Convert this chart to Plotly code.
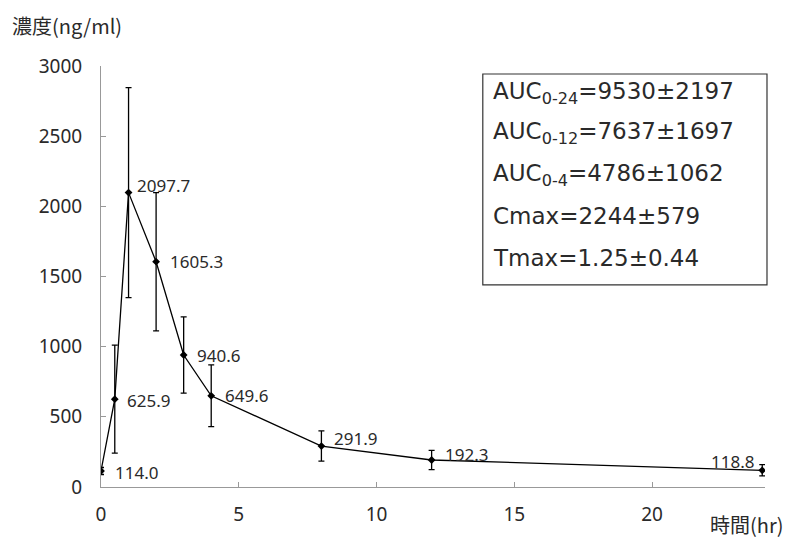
import plotly.graph_objects as go

time_hr = [0, 0.5, 1, 2, 3, 4, 8, 12, 24]
conc_mean = [114.0, 625.9, 2097.7, 1605.3, 940.6, 649.6, 291.9, 192.3, 118.8]
conc_sd = [25, 385, 748, 493, 272, 220, 108, 68, 40]
value_labels = ["114.0", "625.9", "2097.7", "1605.3", "940.6", "649.6", "291.9", "192.3", "118.8"]
stats_lines = [
    "AUC<sub>0-24</sub>=9530±2197",
    "AUC<sub>0-12</sub>=7637±1697",
    "AUC<sub>0-4</sub>=4786±1062",
    "Cmax=2244±579",
    "Tmax=1.25±0.44",
]
y_title = "濃度(ng/ml)"
x_title = "時間(hr)"

FONT = "Noto Sans CJK JP"
LATIN = "Noto Sans, Noto Sans CJK JP"
BOXFONT = "DejaVu Sans"
# label styling offsets (pixels): (xshift, yshift, xanchor)
label_style = [
    (12, -1, "left"), (10, -1, "left"), (6, 7, "left"), (12, 0, "left"),
    (11, 0, "left"), (12, 0, "left"), (11, 8, "left"), (11, 6, "left"),
    (-6, 9, "right"),
]

fig = go.Figure()
fig.add_trace(go.Scatter(
    x=time_hr, y=conc_mean, mode="lines+markers",
    line=dict(color="black", width=1.3),
    marker=dict(symbol="diamond", size=6, color="black"),
    error_y=dict(type="data", array=conc_sd, visible=True, color="black",
                 thickness=1.3, width=3),
    showlegend=False,
))

annotations = []
for xv, yv, lab, (dx, dy, xa) in zip(time_hr, conc_mean, value_labels, label_style):
    annotations.append(dict(x=xv, y=yv, text=lab, showarrow=False, xanchor=xa,
                            yanchor="middle", xshift=dx, yshift=dy,
                            font=dict(family=LATIN, size=17, color="#2a2a2a")))

line_y = [0.936, 0.841, 0.741, 0.644, 0.544]
for txt, yy in zip(stats_lines, line_y):
    annotations.append(dict(x=0.587, y=yy, xref="paper", yref="paper", text=txt,
                            showarrow=False, xanchor="left", yanchor="middle",
                            font=dict(family=BOXFONT, size=23, color="#2a2a2a")))

annotations.append(dict(x=-0.137, y=1.097, xref="paper", yref="paper", text=y_title,
                        showarrow=False, xanchor="left", yanchor="middle",
                        font=dict(family=FONT, size=20, color="#2a2a2a")))
annotations.append(dict(x=1.03, y=-0.09, xref="paper", yref="paper", text=x_title,
                        showarrow=False, xanchor="right", yanchor="middle",
                        font=dict(family=FONT, size=20, color="#2a2a2a")))

fig.update_layout(
    width=785, height=539,
    margin=dict(l=101, r=20, t=66, b=52),
    paper_bgcolor="white", plot_bgcolor="white",
    font=dict(family=LATIN, size=19, color="#2a2a2a"),
    annotations=annotations,
    shapes=[dict(type="rect", xref="paper", yref="paper", x0=0.575, x1=1.003,
                 y0=0.480, y1=0.981, line=dict(color="#333", width=1.2))],
    xaxis=dict(range=[0, 24.1], tickvals=[0, 5, 10, 15, 20], showgrid=False,
               zeroline=False, showline=True, linecolor="#999", linewidth=1,
               ticks="inside", ticklen=5, tickcolor="#999",
               ticklabelstandoff=10, tickfont=dict(size=19)),
    yaxis=dict(range=[0, 3000], tickvals=[0, 500, 1000, 1500, 2000, 2500, 3000],
               showgrid=False, zeroline=False, showline=True, linecolor="#999",
               linewidth=1, ticks="inside", ticklen=5, tickcolor="#999",
               ticklabelstandoff=14, tickfont=dict(size=19)),
)

fig.write_html("out.html")
